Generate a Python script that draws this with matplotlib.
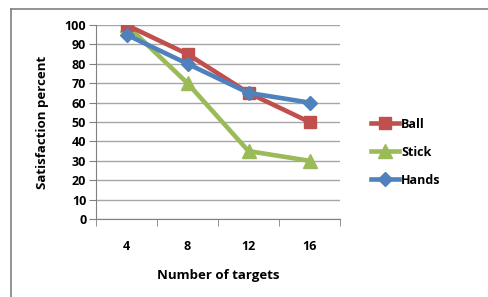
import matplotlib.pyplot as plt
from matplotlib.lines import Line2D

targets = ["4", "8", "12", "16"]
ball = [100, 85, 65, 50]
stick = [100, 70, 35, 30]
hands = [95, 80, 65, 60]

plt.rcParams['font.family'] = ['Open Sans', 'DejaVu Sans']

W, H = 488, 297
fig = plt.figure(figsize=(W / 100, H / 100), dpi=100)

# outer chart frame (only left and top edges show)
fig.add_artist(Line2D([10.5 / W, 10.5 / W], [0, 1 - 9 / H], color="#808080", lw=1.2))
fig.add_artist(Line2D([10.5 / W, 1], [1 - 9 / H, 1 - 9 / H], color="#808080", lw=1.2))

left, right, top, bottom = 96, 340, 25, 219
ax = fig.add_axes([left / W, 1 - bottom / H, (right - left) / W, (bottom - top) / H])

x = range(len(targets))
ax.plot(x, stick, color="#9BBB59", lw=3.3, marker="^", ms=9.5, label="Stick", zorder=3)
ax.plot(x, ball, color="#C0504D", lw=3.3, marker="s", ms=9, label="Ball", zorder=4)
ax.plot(x, hands, color="#4F81BD", lw=3.3, marker="D", ms=7.5, label="Hands", zorder=5)

ax.set_xlim(-0.5, len(targets) - 0.5)
ax.set_ylim(0, 100)
ax.set_yticks(range(0, 101, 10))
ax.set_xticks(list(x))
ax.set_xticklabels(targets)
ax.set_xticks([i - 0.5 for i in range(len(targets) + 1)], minor=True)
ax.tick_params(axis="x", which="major", length=0, pad=15)
ax.tick_params(axis="x", which="minor", length=5, color="#808080", direction="out")
ax.tick_params(axis="y", length=5, color="#808080", pad=2)
for lab in ax.get_xticklabels() + ax.get_yticklabels():
    lab.set_fontweight("bold")
    lab.set_fontsize(9)

ax.grid(axis="y", color="#A6A6A6", lw=1)
ax.set_axisbelow(True)
for s in ["top", "right"]:
    ax.spines[s].set_visible(False)
for s in ["left", "bottom"]:
    ax.spines[s].set_color("#808080")

ax.set_ylabel("Satisfaction percent", fontweight="bold", fontsize=9.5, labelpad=11)
ax.set_xlabel("Number of targets", fontweight="bold", fontsize=9.5, labelpad=12)

handles, labels = ax.get_legend_handles_labels()
order = [labels.index(n) for n in ["Ball", "Stick", "Hands"]]
ax.legend([handles[i] for i in order], [labels[i] for i in order],
          loc="center left", bbox_to_anchor=(360 / W, 1 - 152 / H),
          bbox_transform=fig.transFigure, frameon=False,
          prop={"weight": "bold", "size": 9}, handlelength=2.2,
          handletextpad=0.2, labelspacing=1.2)

fig.savefig("out.png", dpi=100)
